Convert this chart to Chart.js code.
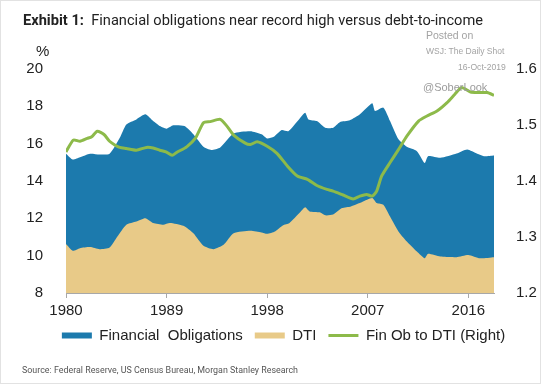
<!DOCTYPE html>
<html>
<head>
<meta charset="utf-8">
<script src="https://cdn.jsdelivr.net/npm/chart.js@4.4.0/dist/chart.umd.min.js"></script>
<style>
  html, body { margin: 0; padding: 0; background: #fff; }
  #wrap { position: relative; width: 541px; height: 384px; overflow: hidden; background: #fff; }
  #frame { position: absolute; left: 0; top: 0; width: 541px; height: 384px; box-sizing: border-box; border: 1px solid #e2e2e2; pointer-events: none; }
  canvas { position: absolute; left: 0; top: 0; }
  .txt { position: absolute; white-space: pre; transform-origin: 0 50%; }
  #title { left: 23px; top: 12px; font: 14px Roboto, sans-serif; line-height: 16px; color: #222; }
  #title b { font-weight: 700; }
  #pct { left: 36px; top: 42px; font: 15px "Liberation Sans", Arial, sans-serif; line-height: 17px; color: #222; }
  #source { left: 22px; top: 364px; font: 9px Roboto, sans-serif; line-height: 12px; color: #555; }
  .wm { font-family: "Liberation Sans", Arial, sans-serif; color: #a3a3a3; }
</style>
</head>
<body>
<div id="wrap">
  <canvas id="myChart" width="541" height="384"></canvas>
  <div class="txt" id="title"><b>Exhibit 1:</b>  Financial obligations near record high versus debt-to-income</div>
  <div class="txt" id="pct">%</div>
  <div class="txt wm" style="left:426px; top:29px; font-size:10.5px; line-height:12px;">Posted on</div>
  <div class="txt wm" style="left:426px; top:46px; font-size:8.5px; line-height:10px;">WSJ: The Daily Shot</div>
  <div class="txt wm" style="left:458px; top:62px; font-size:8.6px; line-height:10px;">16-Oct-2019</div>
  <div class="txt wm" style="left:423px; top:81px; font-size:11px; line-height:13px; color:#9c9c9c;">@SoberLook</div>
  <div class="txt" id="source">Source: Federal Reserve, US Census Bureau, Morgan Stanley Research</div>
  <div id="frame"></div>
</div>
<script>
// values, x in decimal years
const forYears = [1980.0, 1980.6, 1981.25, 1982.15, 1983.0, 1983.9, 1984.8, 1985.4, 1986.3, 1987.1,
  1987.8, 1988.4, 1989.0, 1989.6, 1990.6, 1991.4, 1992.3, 1993.0, 1993.8, 1995.0,
  1996.5, 1997.5, 1998.0, 1998.6, 1999.3, 1999.9, 2000.9, 2001.4, 2001.7, 2002.45,
  2003.2, 2003.9, 2004.5, 2005.4, 2006.3, 2007.4, 2007.65, 2008.4, 2009.0, 2009.75,
  2010.5, 2011.4, 2012.1, 2012.4, 2013.5, 2014.95, 2015.9, 2016.8, 2017.4, 2018.3];
const forValues = [15.46, 15.15, 15.27, 15.46, 15.42, 15.46, 16.3, 17.03, 17.3, 17.57,
  17.21, 16.94, 16.8, 16.98, 16.94, 16.5, 15.83, 15.66, 15.8, 16.55,
  16.67, 16.5, 16.28, 16.37, 16.73, 16.67, 17.34, 17.66, 17.3, 17.21,
  16.85, 16.85, 17.15, 17.25, 17.57, 18.16, 17.75, 17.93, 17.21, 16.23,
  15.83, 15.6, 14.97, 15.33, 15.24, 15.47, 15.69, 15.46, 15.33, 15.37];

const dtiYears = [1980.0, 1980.6, 1981.25, 1982.15, 1983.0, 1983.9, 1984.6, 1985.4, 1986.3, 1987.1,
  1987.8, 1988.7, 1989.3, 1990.5, 1991.4, 1992.3, 1993.2, 1994.1, 1995.0, 1996.5,
  1997.5, 1998.0, 1998.7, 1999.4, 2000.0, 2000.95, 2001.4, 2001.8, 2002.7, 2003.2,
  2003.9, 2004.7, 2005.5, 2006.5, 2007.4, 2007.8, 2008.4, 2009.0, 2009.75, 2010.5,
  2011.4, 2012.1, 2012.4, 2013.5, 2014.95, 2016.0, 2017.05, 2018.3];
const dtiValues = [10.62, 10.26, 10.4, 10.46, 10.35, 10.44, 11.03, 11.66, 11.83, 12.01,
  11.75, 11.66, 11.75, 11.6, 11.2, 10.53, 10.35, 10.58, 11.2, 11.33,
  11.24, 11.17, 11.3, 11.62, 11.75, 12.32, 12.59, 12.37, 12.32, 12.16,
  12.2, 12.55, 12.64, 12.88, 13.09, 12.82, 12.73, 12.1, 11.3, 10.76,
  10.22, 9.86, 10.1, 9.95, 9.92, 10.04, 9.86, 9.92];

const ratioYears = [1980.0, 1980.65, 1981.25, 1981.9, 1982.3, 1982.8, 1983.4, 1983.9, 1984.4, 1984.8,
  1985.4, 1986.3, 1987.2, 1987.8, 1988.4, 1988.95, 1989.5, 1989.9, 1990.8, 1991.6,
  1992.3, 1992.9, 1993.8, 1994.4, 1995.0, 1996.0, 1996.5, 1997.1, 1998.0, 1998.9,
  1999.8, 2000.7, 2001.6, 2002.45, 2003.35, 2003.9, 2004.8, 2005.7, 2006.3, 2006.9,
  2007.4, 2007.8, 2008.25, 2009.0, 2009.75, 2010.5, 2011.55, 2012.3, 2013.2, 2014.1,
  2014.8, 2015.4, 2016.2, 2016.9, 2017.7, 2018.3];
const ratioValues = [1.452, 1.473, 1.471, 1.476, 1.479, 1.489, 1.483, 1.471, 1.464, 1.460,
  1.458, 1.455, 1.460, 1.459, 1.455, 1.452, 1.446, 1.451, 1.461, 1.477,
  1.504, 1.506, 1.510, 1.498, 1.482, 1.468, 1.465, 1.470, 1.462, 1.449,
  1.427, 1.409, 1.403, 1.392, 1.385, 1.382, 1.375, 1.368, 1.373, 1.376,
  1.373, 1.382, 1.409, 1.433, 1.456, 1.480, 1.507, 1.516, 1.525, 1.540,
  1.555, 1.567, 1.559, 1.558, 1.558, 1.553];

const xTickYears = [1980, 1989, 1998, 2007, 2016];

const BLUE = "#1c7aad";
const TAN = "#e8ca88";
const GREEN = "#8dba4a";
const AXIS_FONT = { family: "'Liberation Sans', Arial, sans-serif", size: 15 };

function toPoints(xs, ys) {
  return xs.map((x, i) => ({ x: x, y: ys[i] }));
}

// squeeze html text lines to the width they take in the picture
function fitWidth(id, target) {
  const el = document.getElementById(id);
  const w = el.getBoundingClientRect().width;
  el.style.transform = `scaleX(${target / w})`;
}
fitWidth("title", 460);
fitWidth("source", 276);

const ctx = document.getElementById("myChart").getContext("2d");

const chart = new Chart(ctx, {
  type: "line",
  data: {
    datasets: [
      {
        label: "Financial  Obligations",
        data: toPoints(forYears, forValues),
        yAxisID: "y",
        backgroundColor: BLUE,
        borderColor: BLUE,
        borderWidth: 0,
        fill: "start",
        pointRadius: 0,
        pointStyle: "rect",
        tension: 0.2,
        order: 3,
      },
      {
        label: "DTI",
        data: toPoints(dtiYears, dtiValues),
        yAxisID: "y",
        backgroundColor: TAN,
        borderColor: TAN,
        borderWidth: 0,
        fill: "start",
        pointRadius: 0,
        pointStyle: "rect",
        tension: 0.2,
        order: 2,
      },
      {
        label: "Fin Ob to DTI (Right)",
        data: toPoints(ratioYears, ratioValues),
        yAxisID: "y1",
        backgroundColor: GREEN,
        borderColor: GREEN,
        borderWidth: 3,
        fill: false,
        pointRadius: 0,
        pointStyle: "line",
        tension: 0.2,
        order: 1,
      },
    ],
  },
  options: {
    responsive: false,
    animation: false,
    events: [],
    layout: { padding: { left: 26, right: 0, top: 69, bottom: 31 } },
    plugins: {
      tooltip: { enabled: false },
      legend: {
        position: "bottom",
        labels: {
          usePointStyle: true,
          pointStyleWidth: 30,
          boxHeight: 6,
          padding: 12,
          color: "#222",
          font: AXIS_FONT,
          sort: (a, b) => a.datasetIndex - b.datasetIndex,
        },
      },
    },
    scales: {
      x: {
        type: "linear",
        min: 1980,
        max: 2018.3,
        afterBuildTicks: (scale) => {
          scale.ticks = xTickYears.map((v) => ({ value: v }));
        },
        afterFit: (scale) => {
          scale.height = 23;
        },
        ticks: {
          callback: (v) => String(v),
          color: "#222",
          font: AXIS_FONT,
          padding: 4,
          maxRotation: 0,
          autoSkip: false,
        },
        grid: { drawOnChartArea: false, drawTicks: true, tickLength: 5, color: "#a8a8a8" },
        border: { display: true, color: "#a8a8a8", width: 1 },
      },
      y: {
        position: "left",
        min: 8,
        max: 20,
        afterFit: (scale) => {
          scale.width = 40;
        },
        ticks: { stepSize: 2, color: "#222", font: AXIS_FONT, padding: 15 },
        grid: { display: false },
        border: { display: false },
      },
      y1: {
        position: "right",
        min: 1.2,
        max: 1.6,
        afterFit: (scale) => {
          scale.width = 47;
        },
        ticks: { stepSize: 0.1, color: "#222", font: AXIS_FONT, padding: 14, callback: (v) => v.toFixed(1) },
        grid: { display: false },
        border: { display: false },
      },
    },
  },
});
</script>
</body>
</html>
